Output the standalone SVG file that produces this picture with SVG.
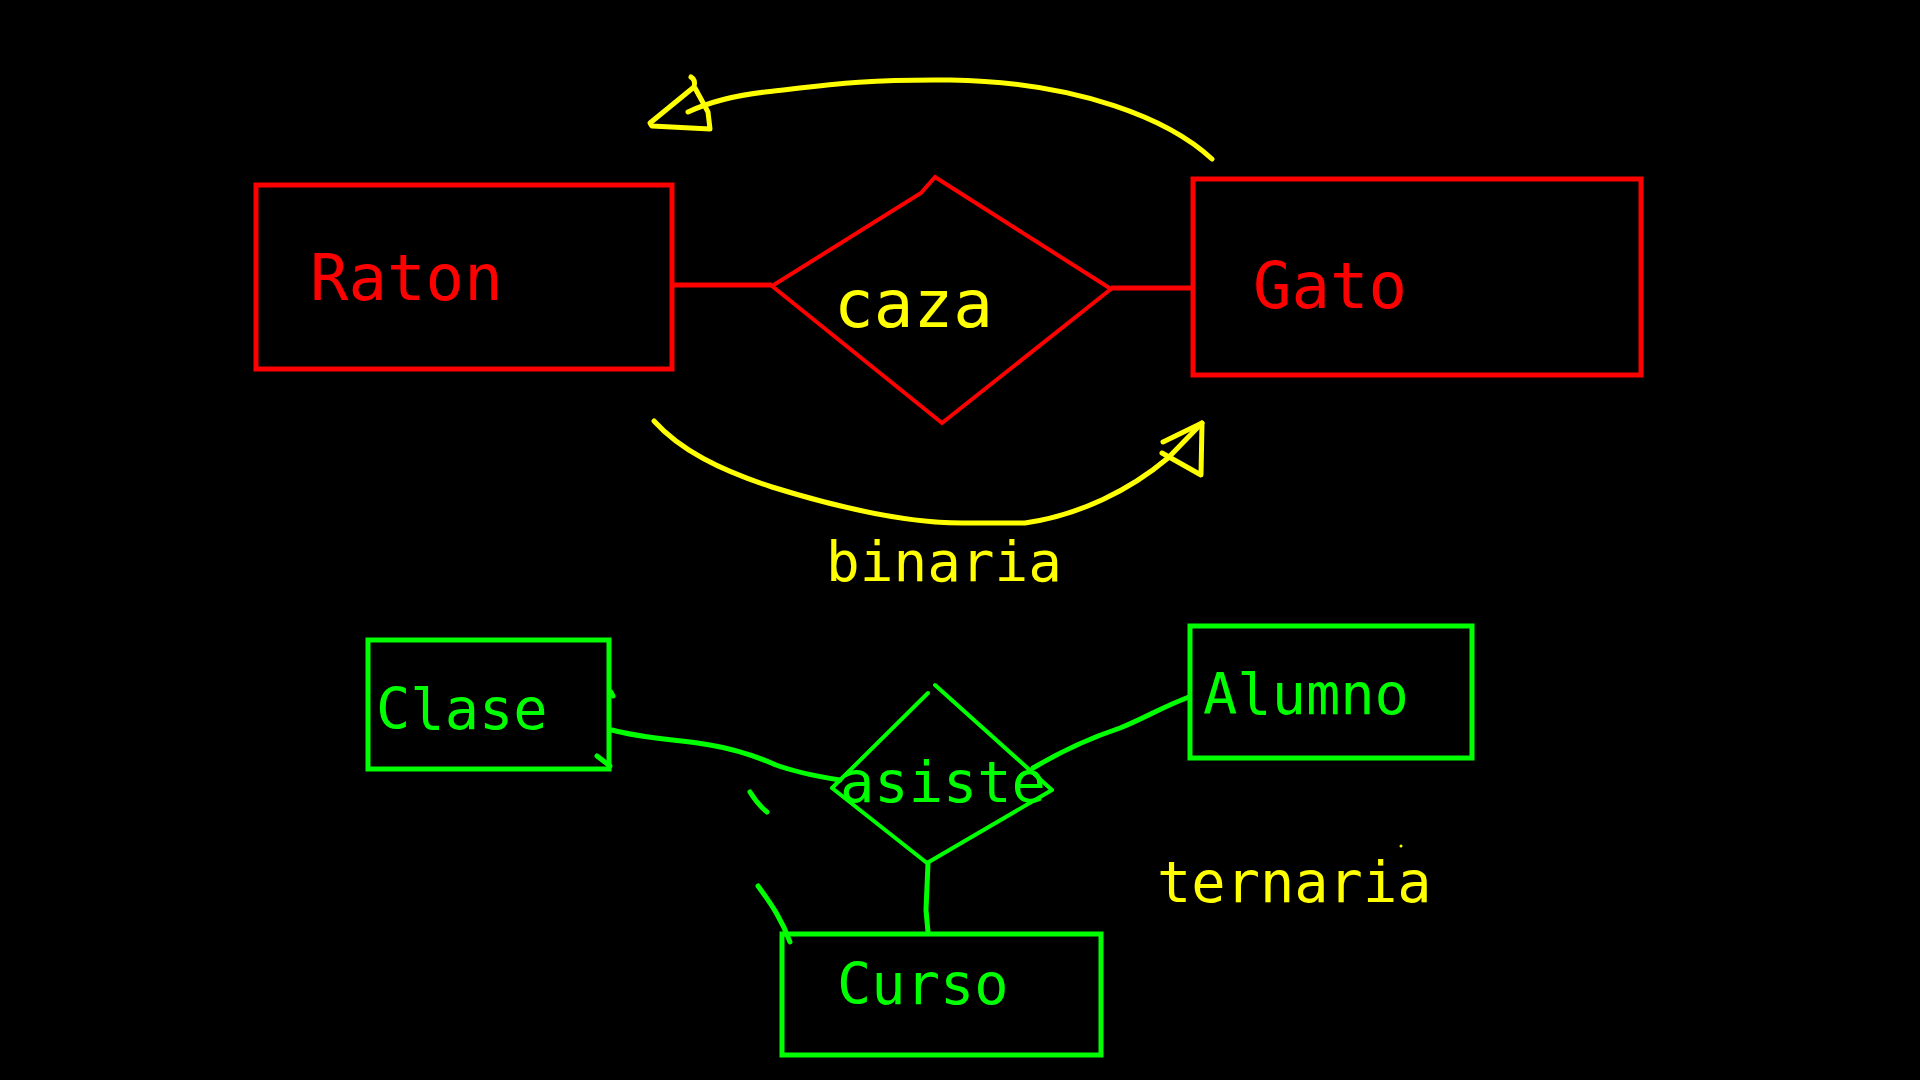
<svg xmlns="http://www.w3.org/2000/svg" width="1920" height="1080" viewBox="0 0 1920 1080">
<style>
.red{fill:none;stroke:#ff0000;stroke-width:5}
.redt{fill:none;stroke:#ff0000;stroke-width:4}
.grn{fill:none;stroke:#00ff00;stroke-width:5}
.grnt{fill:none;stroke:#00ff00;stroke-width:4;stroke-linecap:round;stroke-linejoin:round}
.grnc{fill:none;stroke:#00ff00;stroke-width:5;stroke-linecap:round;stroke-linejoin:round}
.yel{fill:none;stroke:#ffff00;stroke-width:5;stroke-linecap:round;stroke-linejoin:round}
text{font-family:"DejaVu Sans Mono","Liberation Mono",monospace}
.tr{fill:#ff0000;font-size:64px}
.ty{fill:#ffff00}
.tg{fill:#00ff00;font-size:57px}
</style>
<rect width="1920" height="1080" fill="#000000"/>
<g id="connectors">
<line class="red" x1="673" y1="285" x2="772" y2="285"/>
<line class="red" x1="1111" y1="288" x2="1192" y2="288"/>
<path class="yel" d="M1212,159 C1170,120 1080,82 950,80 C860,79 820,86 765,92 C730,96 705,104 688,112"/>
<path class="yel" d="M691,77 Q696,80 694,87 L650,123 L652,126 L710,129 L708,112 L695,88"/>
<path class="yel" d="M654,421 C680,450 720,470 772,487 C830,505 900,523 962,523 L1025,523 C1080,515 1130,490 1168,458 L1202,423"/>
<path class="yel" d="M1163,442 L1202,423 L1201,475 L1162,453"/>
<path class="grnc" d="M612,730 C640,738 680,740 710,745 C740,750 760,758 776,765 C795,772 815,776 840,780"/>
<path class="grnc" d="M1033,768 C1060,752 1090,738 1120,728 C1145,718 1160,708 1189,697"/>
<path class="grnc" d="M928,863 L926,910 L928,932"/>
<path class="grnc" d="M750,792 Q758,805 767,812"/>
<path class="grnc" d="M758,886 C772,905 782,920 790,942"/>
<path class="grnc" d="M611,692 L613,696"/>
<path class="grnc" d="M597,756 L610,766"/>
</g>
<g id="raton">
<rect class="red" x="256" y="185" width="416" height="184"/>
<text class="tr" x="310" y="300">Raton</text>
</g>
<g id="gato">
<rect class="red" x="1193" y="179" width="448" height="196"/>
<text class="tr" x="1253" y="308" font-size="65">Gato</text>
</g>
<g id="caza">
<path class="redt" d="M935,177 L1111,289 L942,423 L772,286 L921,193 Z"/>
<text class="ty" x="834" y="327" font-size="66">caza</text>
</g>
<text id="binaria" class="ty" x="826" y="581" font-size="56">binaria</text>
<g id="clase">
<rect class="grn" x="368" y="640" width="241" height="129"/>
<text class="tg" x="376" y="729">Clase</text>
</g>
<g id="alumno">
<rect class="grn" x="1190" y="626" width="282" height="132"/>
<text class="tg" x="1203" y="714">Alumno</text>
</g>
<g id="curso">
<rect class="grn" x="782" y="934" width="319" height="121"/>
<text class="tg" x="837" y="1004" font-size="56.5">Curso</text>
</g>
<g id="asiste">
<path class="grnt" d="M928,693 L832,788 L927,863 L1052,790 L935,685"/>
<text class="tg" x="840" y="802" font-size="58">asiste</text>
</g>
<text id="ternaria" class="ty" x="1157" y="902" font-size="57">ternaria</text>
<circle cx="1401" cy="846" r="1.5" fill="#ffff00"/>
</svg>
